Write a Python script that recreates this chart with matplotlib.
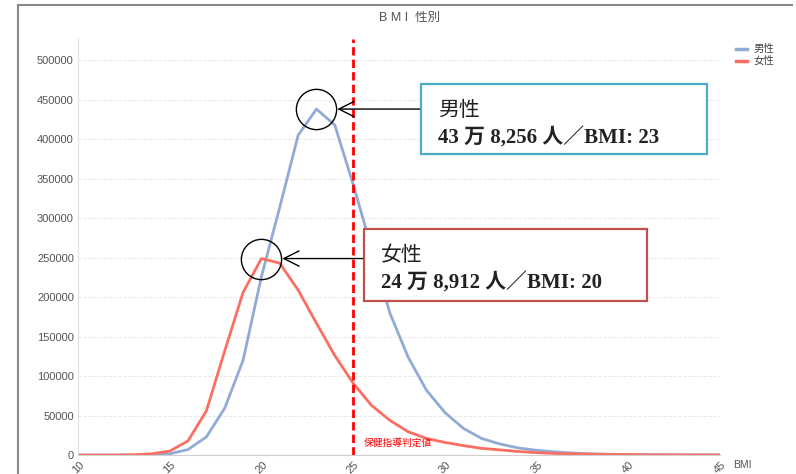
import matplotlib
matplotlib.use('Agg')
import matplotlib.pyplot as plt
from matplotlib.patches import Rectangle
from matplotlib.lines import Line2D

plt.rcParams['font.family'] = ['Liberation Sans', 'Noto Sans CJK JP']

# BMI 10..45 ごとの人数
bmi = list(range(10, 46))
male = [0, 0, 0, 0, 500, 1500, 7000, 23000, 59500, 120000,
        226000, 314000, 405000, 438256, 418000, 343000, 262000, 180000, 124000, 82000,
        54000, 34000, 21000, 14000, 9000, 6000, 4000, 2500, 1500, 1000,
        700, 400, 300, 200, 100, 50]
female = [0, 0, 0, 300, 1500, 5000, 18000, 56000, 132000, 206000,
          248912, 243000, 209000, 167000, 126000, 91000, 63000, 44000, 29500, 21000,
          16000, 12000, 8500, 6500, 4500, 3000, 2000, 1500, 1000, 700,
          500, 300, 200, 150, 100, 50]
series_names = ['男性', '女性']
series_colors = ['#91abd6', '#fb6f62']
threshold = 25
yticks = list(range(0, 500001, 50000))
xticks = list(range(10, 46, 5))

fig = plt.figure(figsize=(7.96, 4.74), dpi=100)
ax = fig.add_axes([0.098, 0.040, 0.8065, 0.8777])

ax.plot(bmi, male, color=series_colors[0], lw=2.0, solid_joinstyle='round')
ax.plot(bmi, female, color=series_colors[1], lw=2.0, solid_joinstyle='round')
ax.axvline(threshold, color='red', lw=2.0, ls=(0, (3, 1.5)), zorder=5)

ax.set_xlim(10, 45)
ax.set_ylim(0, 527000)
ax.set_yticks(yticks)
ax.set_yticklabels([str(v) for v in yticks], fontsize=8, color='#555555')
ax.set_xticks(xticks)
ax.set_xticklabels([str(v) for v in xticks], fontsize=8, color='#555555',
                   rotation=45, ha='center', va='top')
ax.tick_params(length=0, pad=3)
ax.grid(axis='y', color='#e4e4e4', ls=(0, (4, 2)), lw=0.6)
for s in ['top', 'right']:
    ax.spines[s].set_visible(False)
ax.spines['left'].set_color('#e0e0e0')
ax.spines['bottom'].set_color('#d0d0d0')
ax.set_axisbelow(True)

ax.text(threshold + 0.6, 12000, '保健指導判定値', color='red', fontsize=7)
fig.text(0.921, 0.012, 'BMI', fontsize=7.5, color='#555555')
fig.text(0.514, 0.962, 'B M I  性別', fontsize=9, color='#555555', ha='center', va='center')

# 外枠
fig.add_artist(Line2D([0.023, 0.023], [0, 0.99], color='#888888', lw=1.5))
fig.add_artist(Line2D([0.023, 0.995], [0.99, 0.99], color='#888888', lw=1.5))

# 凡例
for i, (name, col) in enumerate(zip(series_names, series_colors)):
    yy = 0.897 - i * 0.026
    fig.add_artist(Line2D([0.924, 0.939], [yy, yy], color=col, lw=2.5))
    fig.text(0.947, yy, name, fontsize=7.5, color='#444444', va='center')

# ピーク注記
peaks = [(bmi[male.index(max(male))], max(male)), (bmi[female.index(max(female))], max(female))]
for px, py in peaks:
    ax.plot(px, py, marker='o', ms=29, mfc='none', mec='black', mew=1.0, zorder=6)

serif = ['Liberation Serif', 'Noto Sans CJK JP']
boxes = [
    (421, 84, 286, 70, '#4bacc6', '男性', '43 万 8,256 人／BMI: 23'),
    (364, 229, 283, 72, '#c0504d', '女性', '24 万 8,912 人／BMI: 20'),
]
W, H = 796, 474
for (bx, by, bw, bh, ec, t1, t2), (px, py) in zip(boxes, peaks):
    fig.add_artist(Rectangle((bx / W, 1 - (by + bh) / H), bw / W, bh / H,
                             transform=fig.transFigure, fc='white', ec=ec, lw=1.6, zorder=7))
    fig.text((bx + 17) / W, 1 - (by + 27) / H, t1, fontsize=15, family=serif,
             va='center', zorder=8, color='#222222')
    fig.text((bx + 17) / W, 1 - (by + 54) / H, t2, fontsize=15, family=serif,
             weight='bold', va='center', zorder=8, color='#222222')
    ax.annotate('', xy=(px, py), xycoords='data',
                xytext=(bx / W, py), textcoords=('figure fraction', 'data'),
                arrowprops=dict(arrowstyle='->,head_length=1.1,head_width=0.55', color='black',
                                lw=1.0, shrinkA=0, shrinkB=15), zorder=6)

fig.savefig('out.png', dpi=100)
